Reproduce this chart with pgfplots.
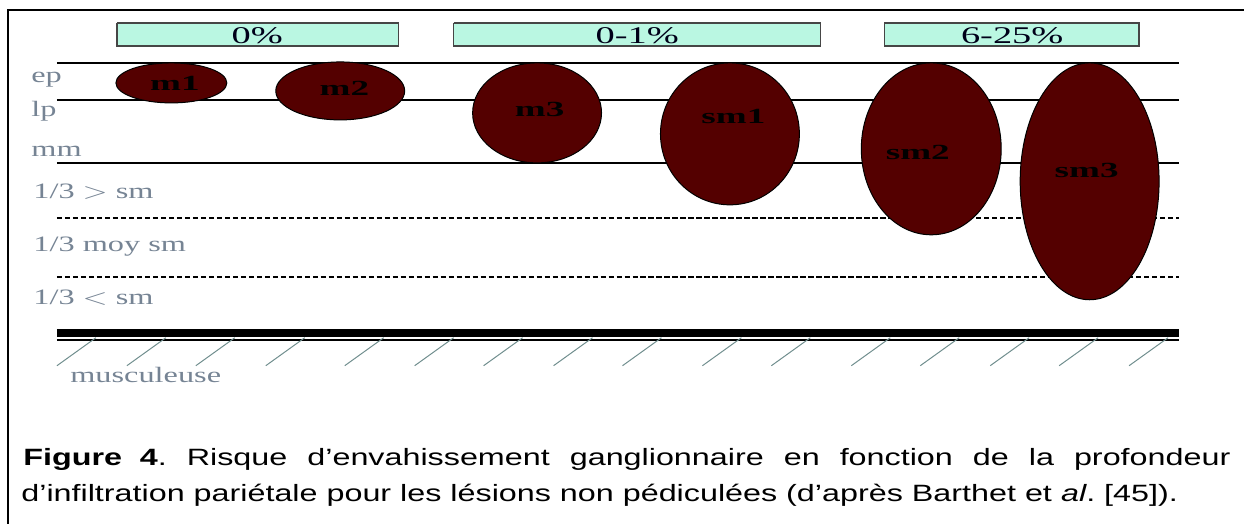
\documentclass[border=0pt]{standalone}
\usepackage{pgfplots}
\pgfplotsset{compat=1.18}
\usepackage{pgfplotstable}
\usepackage{graphicx}
\usepackage{fontspec}
\setmainfont{Liberation Serif}
\newfontfamily\capfont{Liberation Sans}

\definecolor{mint}{RGB}{186,247,226}
\definecolor{boxedge}{RGB}{70,70,70}
\definecolor{lesion}{RGB}{84,0,0}
\definecolor{layertxt}{RGB}{118,132,148}
\definecolor{hatch}{RGB}{112,142,142}

% lesions: centre (x,y) and half axes, in pixels of the figure
\pgfplotstableread{
x      y      rx    ry
171.5  83     55.5  20
340.5  91     64.5  29
537.5  113    64.5  50
730.5  134    69.5  71
932    149    70    86
1090.5 181.5  69.5  118.5
}\lesions

% ellipse drawn as a plot mark, 1 unit = 0.5pt
\pgfdeclareplotmark{lesion}{%
  \pgfmathsetmacro\ea{0.5*\rx}\pgfmathsetmacro\eb{0.5*\ry}%
  \pgfpathellipse{\pgfpointorigin}{\pgfpoint{\ea pt}{0pt}}{\pgfpoint{0pt}{\eb pt}}%
  \pgfusepathqfillstroke}

\newcommand\layer[1]{\scalebox{1.47}[1]{#1}}
\newcommand\risk[1]{\scalebox{1.6}[1]{#1}}
\newcommand\lname[1]{\scalebox{1.72}[1]{\bfseries #1}}

\begin{document}
\frenchspacing
\begin{tikzpicture}
\begin{axis}[
    x=0.5pt, y=0.5pt, y dir=reverse,
    xmin=0, xmax=1245, ymin=0, ymax=524,
    hide axis, clip=false, set layers,
]
\path (rel axis cs:0,0) rectangle (rel axis cs:1,1);

% frame
\addplot[black, line width=1pt] coordinates {(8,524) (8,10) (1245,10)};

% risk boxes
\addplot[draw=boxedge, fill=mint, line width=0.7pt, line join=miter] coordinates {(117,23) (399,23) (399,46) (117,46) (117,23)};
\addplot[draw=boxedge, fill=mint, line width=0.7pt, line join=miter] coordinates {(454,23) (821,23) (821,46) (454,46) (454,23)};
\addplot[draw=boxedge, fill=mint, line width=0.7pt, line join=miter] coordinates {(885,23) (1140,23) (1140,46) (885,46) (885,23)};

% layer boundaries
\addplot[black, line width=0.8pt] coordinates {(57,63) (1180,63)};
\addplot[black, line width=0.8pt] coordinates {(57,100) (1180,100)};
\addplot[black, line width=1.3pt] coordinates {(57,163) (1180,163)};
\addplot[black, line width=1pt, dash pattern=on 2.6pt off 1.4pt] coordinates {(57,218) (1180,218)};
\addplot[black, line width=1pt, dash pattern=on 2.6pt off 1.4pt] coordinates {(57,277) (1180,277)};
\addplot[black, line width=4pt] coordinates {(57,333) (1180,333)};
\addplot[black, line width=1pt] coordinates {(57,340.5) (1180,340.5)};

% muscularis hatching
\addplot[hatch, line width=0.5pt, unbounded coords=jump] coordinates {
  (57,366) (96,338) (nan,nan) (127,366) (166,338) (nan,nan)
  (196,366) (235,338) (nan,nan) (266,366) (305,338) (nan,nan)
  (345,366) (384,338) (nan,nan) (415,366) (454,338) (nan,nan)
  (484,366) (523,338) (nan,nan) (554,366) (593,338) (nan,nan)
  (623,366) (662,338) (nan,nan) (703,366) (742,338) (nan,nan)
  (772,366) (811,338) (nan,nan) (852,366) (891,338) (nan,nan)
  (921,366) (960,338) (nan,nan) (991,366) (1030,338) (nan,nan)
  (1060,366) (1099,338) (nan,nan) (1130,366) (1169,338)
};

% lesions
\addplot[only marks, mark=lesion,
    mark options={draw=black, fill=lesion, line width=0.5pt},
    visualization depends on={\thisrow{rx} \as \rx},
    visualization depends on={\thisrow{ry} \as \ry}]
    table[x=x, y=y] {\lesions};

\begin{pgfonlayer}{axis foreground}
% lesion names
\begin{scope}[every node/.style={inner sep=0pt, text=black, font=\fontsize{10.8}{12}\selectfont}]
\node at (axis cs:175,83) {\lname{m1}};
\node at (axis cs:344.7,88) {\lname{m2}};
\node at (axis cs:540,110) {\lname{m3}};
\node at (axis cs:734,117) {\lname{sm1}};
\node at (axis cs:918.5,153) {\lname{sm2}};
\node at (axis cs:1087.5,171) {\lname{sm3}};
\end{scope}

% risk labels
\begin{scope}[every node/.style={inner sep=0pt, text=black!90!blue, font=\fontsize{12}{14}\selectfont}]
\node at (axis cs:257.5,35.5) {\risk{0\%}};
\node at (axis cs:637.8,35.5) {\risk{0-1\%}};
\node at (axis cs:1013,35.5) {\risk{6-25\%}};
\end{scope}

% layer names
\begin{scope}[every node/.style={inner sep=0pt, anchor=base west, text=layertxt, font=\fontsize{11}{13}\selectfont}]
\node at (axis cs:31,83) {\layer{ep}};
\node at (axis cs:31,117) {\layer{lp}};
\node at (axis cs:31,157) {\layer{mm}};
\node at (axis cs:33,199) {\layer{1/3 $>$ sm}};
\node at (axis cs:33,252) {\layer{1/3 moy sm}};
\node at (axis cs:33,305) {\layer{1/3 $<$ sm}};
\node at (axis cs:70,383) {\layer{musculeuse}};
\end{scope}

% caption
\begin{scope}[every node/.style={inner sep=0pt, anchor=base west, font=\capfont\fontsize{11.8}{14}\selectfont}]
\node at (axis cs:23,466) {\scalebox{1.37}[1]{\makebox[440.9pt][s]{\textbf{Figure\hspace*{0.55em}4}. Risque d’envahissement ganglionnaire en fonction de la profondeur}}};
\node at (axis cs:21,502) {\scalebox{1.37}[1]{d’infiltration pariétale pour les lésions non pédiculées (d’après Barthet et \textit{al}. [45]).}};
\end{scope}
\end{pgfonlayer}
\end{axis}
\end{tikzpicture}
\end{document}
